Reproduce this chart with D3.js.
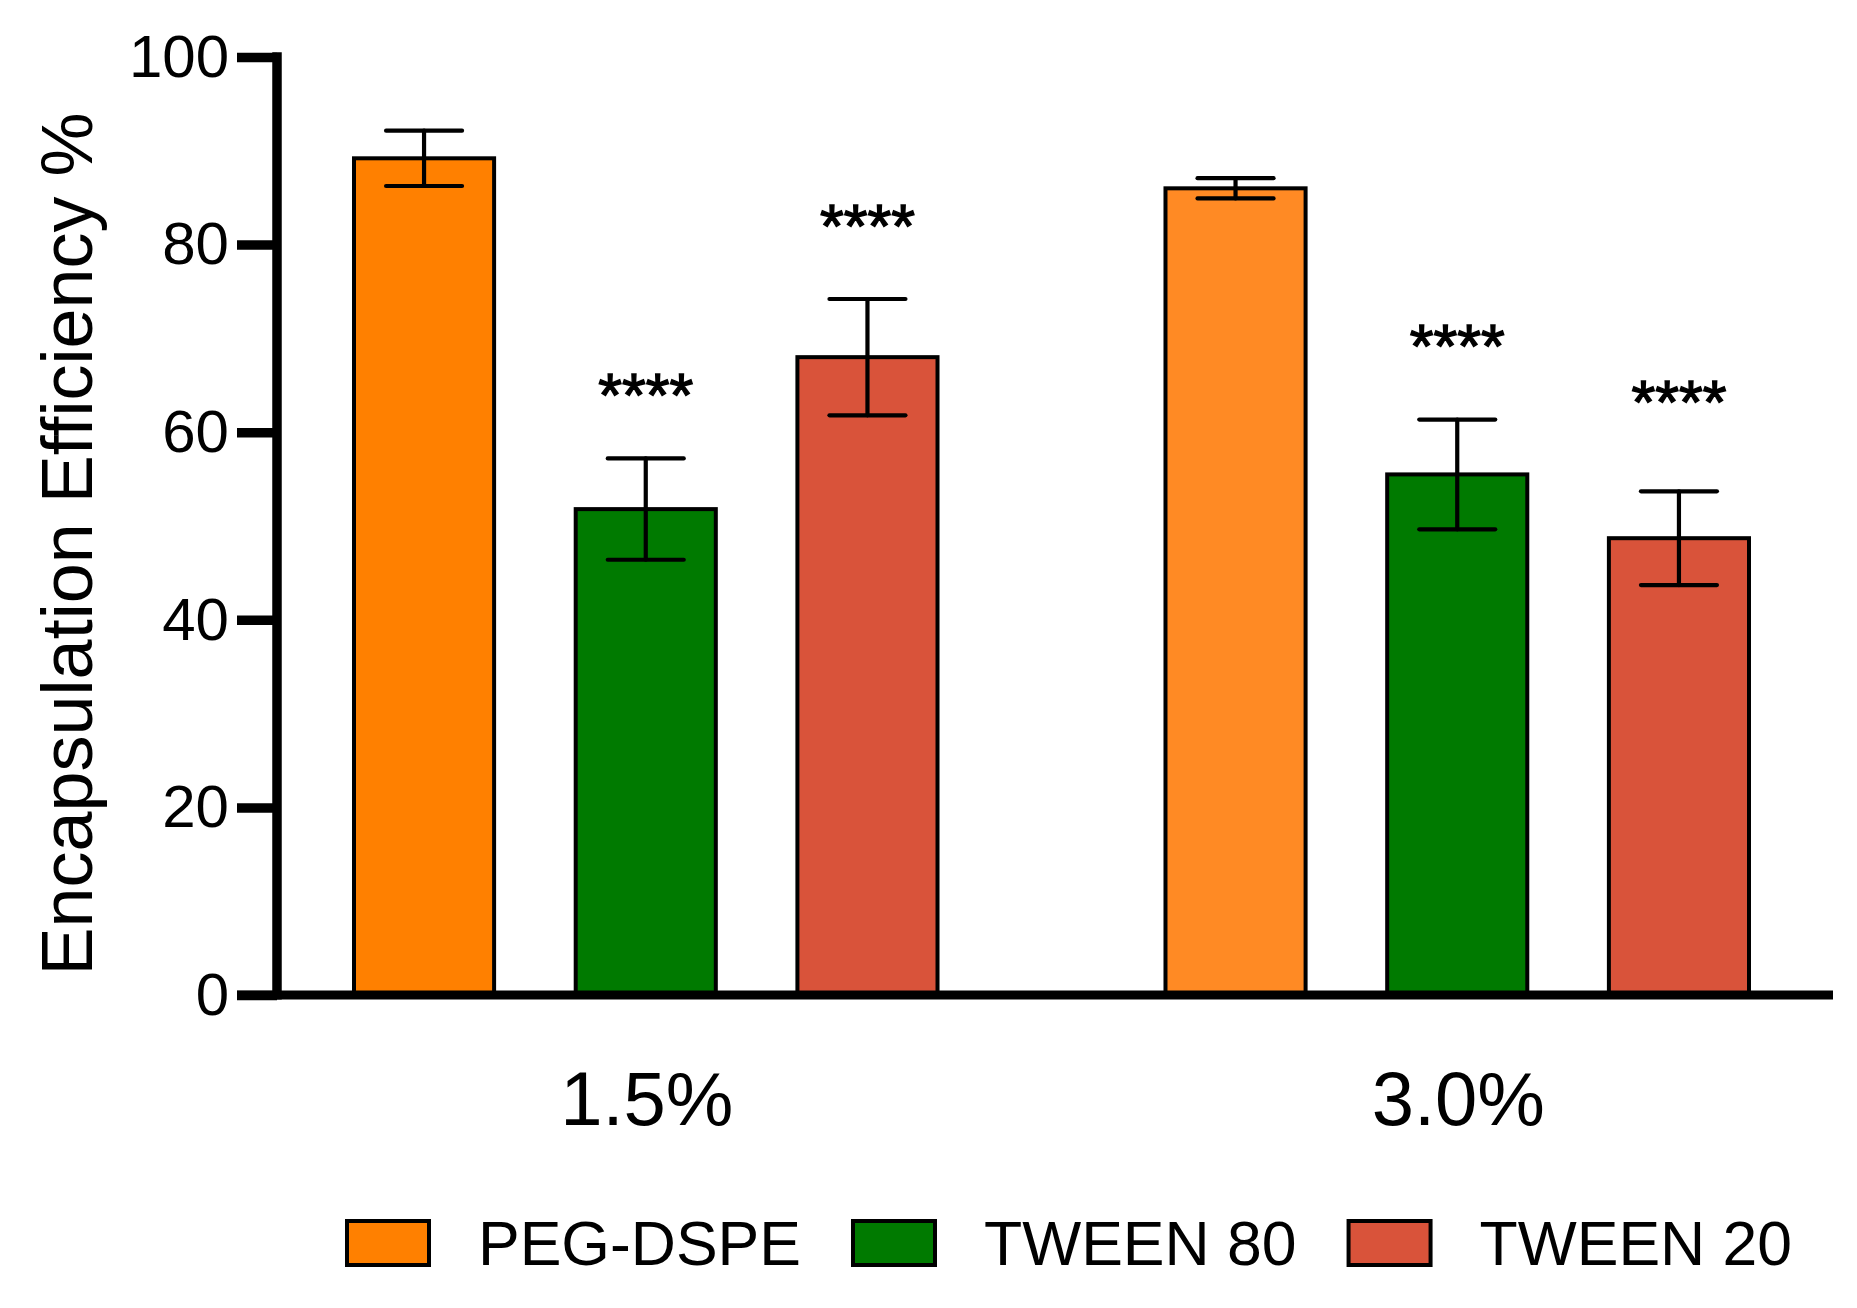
<!DOCTYPE html>
<html>
<head>
<meta charset="utf-8">
<script src="https://cdn.jsdelivr.net/npm/d3@7"></script>
<style>
  html, body { margin: 0; padding: 0; background: #fff; }
  svg { display: block; }
  text { font-family: "Liberation Sans", Arial, Helvetica, sans-serif; fill: #000; }
</style>
</head>
<body>
<svg id="chart" width="1857" height="1308"></svg>
<script>
// ---- data ----
const groups = ["1.5%", "3.0%"];
const series = ["PEG-DSPE", "TWEEN 80", "TWEEN 20"];
const means = [[89.2, 51.8, 68.0], [86.0, 55.5, 48.7]];
const errors = [[2.95, 5.4, 6.2], [1.08, 5.85, 5.0]];
const stars = [["", "****", "****"], ["", "****", "****"]];
const starLevels = [[null, 64.85, 82.8], [null, 70.0, 64.1]];
const yTicks = [0, 20, 40, 60, 80, 100];
const yTitle = "Encapsulation Efficiency %";

// ---- styles ----
const barColors = [["#FF8000", "#007A00", "#D9533A"], ["#FF8A24", "#007A00", "#D9533A"]];
const legendColors = ["#FF8000", "#007A00", "#D9533A"];

const svg = d3.select("#chart");

const y = d3.scaleLinear().domain([0, 100]).range([995, 57]);
const x0 = d3.scaleBand().domain(groups).range([352, 1751]).paddingInner(0.276).paddingOuter(0);
const x1 = d3.scaleBand().domain(series).range([0, x0.bandwidth()]).paddingInner(0.35).paddingOuter(0);

const axisX = 277;

// bars
const barStroke = 4;
groups.forEach((g, gi) => {
  const gEl = svg.append("g").attr("transform", `translate(${x0(g)},0)`);
  series.forEach((s, si) => {
    const v = means[gi][si];
    const bx = x1(s);
    gEl.append("rect")
      .attr("x", bx + barStroke / 2)
      .attr("y", y(v))
      .attr("width", x1.bandwidth() - barStroke)
      .attr("height", y(0) - y(v))
      .attr("fill", barColors[gi][si])
      .attr("stroke", "#000")
      .attr("stroke-width", barStroke);
  });
});

// error bars
const capHalf = 38;
groups.forEach((g, gi) => {
  series.forEach((s, si) => {
    const cx = x0(g) + x1(s) + x1.bandwidth() / 2;
    const v = means[gi][si], e = errors[gi][si];
    const eg = svg.append("g").attr("stroke", "#000").attr("stroke-width", 4.2).attr("stroke-linecap", "round");
    eg.append("line").attr("x1", cx).attr("x2", cx).attr("y1", y(v + e)).attr("y2", y(v - e));
    eg.append("line").attr("x1", cx - capHalf).attr("x2", cx + capHalf).attr("y1", y(v + e)).attr("y2", y(v + e));
    eg.append("line").attr("x1", cx - capHalf).attr("x2", cx + capHalf).attr("y1", y(v - e)).attr("y2", y(v - e));
    if (stars[gi][si]) {
      svg.append("text")
        .attr("x", cx)
        .attr("y", y(starLevels[gi][si]) + 29)
        .attr("text-anchor", "middle")
        .attr("font-size", 61)
        .attr("stroke", "#000")
        .attr("stroke-width", 1.4)
        .text(stars[gi][si]);
    }
  });
});

// y axis
const yAxis = d3.axisLeft(y).tickValues(yTicks).tickSize(40).tickPadding(8).tickFormat(d3.format("d"));
const ya = svg.append("g").attr("transform", `translate(${axisX},0)`).call(yAxis);
ya.select(".domain").remove();
ya.selectAll(".tick line").attr("stroke", "#000").attr("stroke-width", 9.5);
ya.selectAll(".tick text").attr("font-size", 60).attr("fill", "#000")
  .attr("font-family", '"Liberation Sans", Arial, sans-serif');

svg.append("line")
  .attr("x1", axisX).attr("x2", axisX)
  .attr("y1", y(100) - 4.75).attr("y2", y(0) + 4.5)
  .attr("stroke", "#000").attr("stroke-width", 9.5);

// x axis line
svg.append("line")
  .attr("x1", axisX - 40).attr("x2", 1833)
  .attr("y1", y(0)).attr("y2", y(0))
  .attr("stroke", "#000").attr("stroke-width", 9);

// category labels
svg.selectAll(".cat").data(groups).enter().append("text")
  .attr("class", "cat")
  .attr("x", d => x0(d) + x0.bandwidth() / 2 + 1)
  .attr("y", 1125)
  .attr("text-anchor", "middle")
  .attr("font-size", 76)
  .text(d => d);

// y title
svg.append("text")
  .attr("transform", `translate(92,544) rotate(-90)`)
  .attr("text-anchor", "middle")
  .attr("font-size", 72)
  .text(yTitle);

// legend
const legend = svg.append("g");
let lx = 345;
series.forEach((s, i) => {
  legend.append("rect")
    .attr("x", lx + 2).attr("y", 1221)
    .attr("width", 82).attr("height", 44)
    .attr("fill", legendColors[i]).attr("stroke", "#000").attr("stroke-width", 4);
  const t = legend.append("text")
    .attr("x", lx + 133).attr("y", 1265)
    .attr("font-size", 62.5)
    .text(s);
  const w = t.node().getComputedTextLength();
  lx = lx + 133 + w + 50;
});
</script>
</body>
</html>
